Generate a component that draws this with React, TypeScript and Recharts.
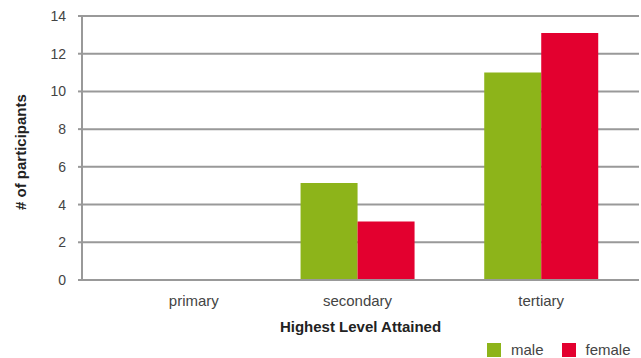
import { Bar, BarChart, CartesianGrid, Legend, XAxis, YAxis } from 'recharts'

const levels = ['primary', 'secondary', 'tertiary']
const male = [0, 5.15, 11]
const female = [0, 3.1, 13.1]
const yTicks = [0, 2, 4, 6, 8, 10, 12, 14]

const data = levels.map((level, i) => ({ level, male: male[i], female: female[i] }))

const GREEN = '#8db41a'
const RED = '#e3002f'
const GRID = '#999999'
const FONT = '"Liberation Sans", Arial, Helvetica, sans-serif'

function LevelTick({ x, y, payload, index }: any) {
  // the first label sits a little right of its band in the original
  const dx = index === 0 ? 20 : 0
  return (
    <text x={x + dx} y={y} dy={18} textAnchor="middle" fontSize={15} fill="#444" fontFamily={FONT}>
      {payload.value}
    </text>
  )
}

function LegendBox() {
  const item = (color: string, label: string, gap: number) => (
    <span style={{ display: 'inline-flex', alignItems: 'center', marginLeft: gap }}>
      <span style={{ width: 14, height: 14, background: color, display: 'inline-block', marginRight: 10 }} />
      <span style={{ fontSize: 15, color: '#444', fontFamily: FONT, lineHeight: '16px' }}>{label}</span>
    </span>
  )
  return (
    <div style={{ display: 'flex' }}>
      {item(GREEN, 'male', 0)}
      {item(RED, 'female', 18)}
    </div>
  )
}

export default function App() {
  return (
    <div style={{ position: 'absolute', left: 0, top: 0 }}>
      <BarChart
        width={641}
        height={358}
        data={data}
        margin={{ top: 16, right: 2, bottom: 0, left: 0 }}
        barCategoryGap="19%"
        barGap={0}
      >
        <CartesianGrid vertical={false} stroke={GRID} strokeWidth={2} />
        <XAxis
          dataKey="level"
          height={62}
          tickLine={false}
          axisLine={{ stroke: GRID, strokeWidth: 2 }}
          padding={{ left: 0, right: 6 }}
          tick={<LevelTick />}
          label={{
            value: 'Highest Level Attained',
            position: 'insideTop',
            offset: 41,
            fontSize: 15,
            fontWeight: 'bold',
            fill: '#222',
            fontFamily: FONT,
          }}
        />
        <YAxis
          width={82}
          domain={[0, 14]}
          ticks={yTicks}
          interval={0}
          tickSize={4}
          tickMargin={12}
          tickLine={{ stroke: GRID, strokeWidth: 2 }}
          axisLine={{ stroke: GRID, strokeWidth: 2 }}
          tick={{ fontSize: 14, fill: '#444', fontFamily: FONT }}
          label={{
            value: '# of participants',
            angle: -90,
            position: 'insideLeft',
            offset: 21,
            dy: 62,
            fontSize: 15,
            fontWeight: 'bold',
            fill: '#222',
            fontFamily: FONT,
          }}
        />
        <Legend
          content={<LegendBox />}
          wrapperStyle={{ position: 'absolute', left: 487, top: 342, width: 'auto' }}
        />
        <Bar dataKey="male" fill={GREEN} isAnimationActive={false} />
        <Bar dataKey="female" fill={RED} isAnimationActive={false} />
      </BarChart>
    </div>
  )
}
